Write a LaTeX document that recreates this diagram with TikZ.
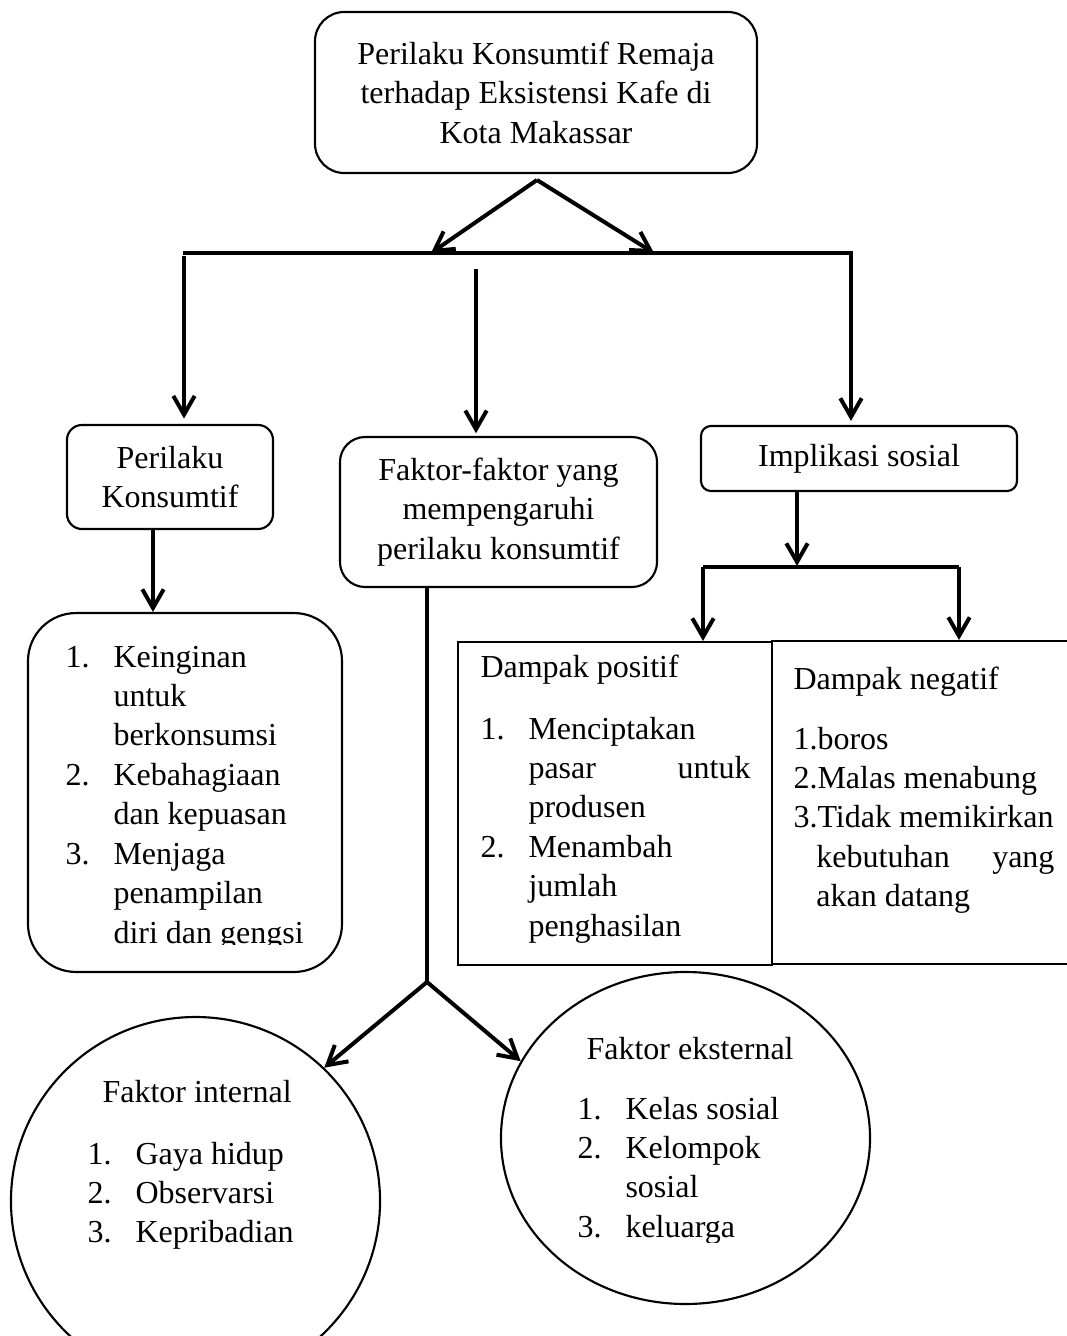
\documentclass[tikz,border=0pt]{standalone}
\usepackage{fontspec}
\setmainfont{Liberation Serif}
\usetikzlibrary{arrows.meta,shapes.geometric}

\newcommand{\nomor}[1]{\makebox[18pt][l]{#1}}
\newcommand{\lanjut}{\hspace*{18pt}}

\begin{document}
\begin{tikzpicture}[x=0.375pt,y=-0.375pt,
		>={Straight Barb[length=7pt,width=8pt]},
		box/.style={draw,line width=0.8pt,rounded corners=#1,inner sep=0pt,align=center,
			font=\fontsize{12}{14.8}\selectfont},
		box/.default=5pt,
		plainbox/.style={draw,line width=0.8pt,inner sep=0pt},
		oval/.style={draw,ellipse,line width=0.8pt,inner sep=0pt},
		txt/.style={inner sep=0pt,anchor=base west,font=\fontsize{12}{14.8}\selectfont},
		link/.style={line width=1.5pt}]

		\useasboundingbox (0,0) rectangle (1067,1336);

		% kotak-kotak
		\node[box=11pt,minimum width=165.75pt,minimum height=60.4pt] (judul) at (536,92.5)
			{Perilaku Konsumtif Remaja\\terhadap Eksistensi Kafe di\\Kota Makassar};
		\node[box=5.6pt,minimum width=77.25pt,minimum height=39pt] (perilaku) at (170,477)
			{Perilaku\\Konsumtif};
		\node[box=9.4pt,minimum width=118.9pt,minimum height=56.25pt] (faktor) at (498.5,512)
			{Faktor-faktor yang\\mempengaruhi\\perilaku konsumtif};
		\node[box=3.75pt,minimum width=118.5pt,minimum height=24.4pt] (implikasi) at (859,458.5)
			{Implikasi sosial};
		\node[box=18pt,minimum width=117.75pt,minimum height=134.6pt] (ciri) at (185,792.5) {};
		\node[plainbox,minimum width=117.75pt,minimum height=121.1pt] (positif) at (615,803.5) {};
		\node[plainbox,minimum width=115.5pt,minimum height=121.1pt] (negatif) at (926,802.5) {};
		\node[oval,minimum width=138.4pt,minimum height=138pt] (internal) at (195.5,1201) {};
		\node[oval,minimum width=138.4pt,minimum height=124.5pt] (eksternal) at (685.5,1138) {};

		% isi
		\begin{scope}
			\clip (0,600) rectangle (400,944);
			\node[txt] (ciriisi) at (65,667) {\begin{tabular}[t]{@{}l@{}}
					\nomor{1.}Keinginan\\ \lanjut untuk\\ \lanjut berkonsumsi\\
					\nomor{2.}Kebahagiaan\\ \lanjut dan kepuasan\\
					\nomor{3.}Menjaga\\ \lanjut penampilan\\ \lanjut diri dan gengsi
				\end{tabular}};
		\end{scope}

		\node[txt] (positifjudul) at (480,677) {Dampak positif};
		\node[txt] (positifisi) at (480,739) {\begin{tabular}[t]{@{}l@{}}
				\nomor{1.}Menciptakan\\ \lanjut\makebox[83.25pt][s]{pasar untuk}\\ \lanjut produsen\\
				\nomor{2.}Menambah\\ \lanjut jumlah\\ \lanjut penghasilan
			\end{tabular}};

		\node[txt] (negatifjudul) at (793,689) {Dampak negatif};
		\node[txt] (negatifisi) at (793,749) {\begin{tabular}[t]{@{}l@{}}
				1.boros\\ 2.Malas menabung\\ 3.Tidak memikirkan\\
				\hspace*{8.6pt}\makebox[89.25pt][s]{kebutuhan yang}\\ \hspace*{8.6pt}akan datang
			\end{tabular}};

		\node[txt] (internaljudul) at (102,1102) {Faktor internal};
		\node[txt] (internalisi) at (87,1164) {\begin{tabular}[t]{@{}l@{}}
				\nomor{1.}Gaya hidup\\ \nomor{2.}Observarsi\\ \nomor{3.}Kepribadian
			\end{tabular}};

		\node[txt] (eksternaljudul) at (586,1059) {Faktor eksternal};
		\begin{scope}
			\clip (500,1000) rectangle (900,1242);
			\node[txt] (eksternalisi) at (577,1119) {\begin{tabular}[t]{@{}l@{}}
					\nomor{1.}Kelas sosial\\ \nomor{2.}Kelompok\\ \lanjut sosial\\ \nomor{3.}keluarga
				\end{tabular}};
		\end{scope}

		% panah
		\coordinate (puncak) at (537,180);
		\coordinate (kiri) at (431,253);
		\coordinate (kanan) at (654,253);
		\draw[->,link] (puncak) -- (kiri);
		\draw[->,link] (puncak) -- (kanan);

		\coordinate (ujung1) at (183,253);
		\coordinate (ujung2) at (853,253);
		\draw[link] (ujung1) -- (ujung2);

		\coordinate (turun1) at (184,256);
		\coordinate (turun2) at (476,269);
		\coordinate (turun3) at (851,253);
		\draw[->,link,shorten >=2pt] (turun1) -- (turun1 |- perilaku.north);
		\draw[->,link,shorten >=1pt] (turun2) -- (turun2 |- faktor.north);
		\draw[->,link,shorten >=1.5pt] (turun3) -- (turun3 |- implikasi.north);

		\coordinate (cabang) at (797,566);
		\coordinate (cabang1) at (703,567);
		\coordinate (cabang2) at (959,567);
		\draw[->,link] (implikasi.south -| cabang) -- (cabang);
		\draw[link] (cabang1) -- (cabang2);
		\draw[->,link] (cabang1) -- (cabang1 |- positif.north);
		\draw[->,link] (cabang2) -- (cabang2 |- negatif.north);

		\coordinate (keluar) at (153,529);
		\draw[->,link] (keluar) -- (keluar |- ciri.north);

		\coordinate (pisah) at (427,982);
		\draw[link] (pisah |- faktor.south) -- (pisah);
		\draw[->,link] (pisah) -- (internal.46);
		\draw[->,link] (pisah) -- (eksternal.155);

	\end{tikzpicture}
\end{document}
